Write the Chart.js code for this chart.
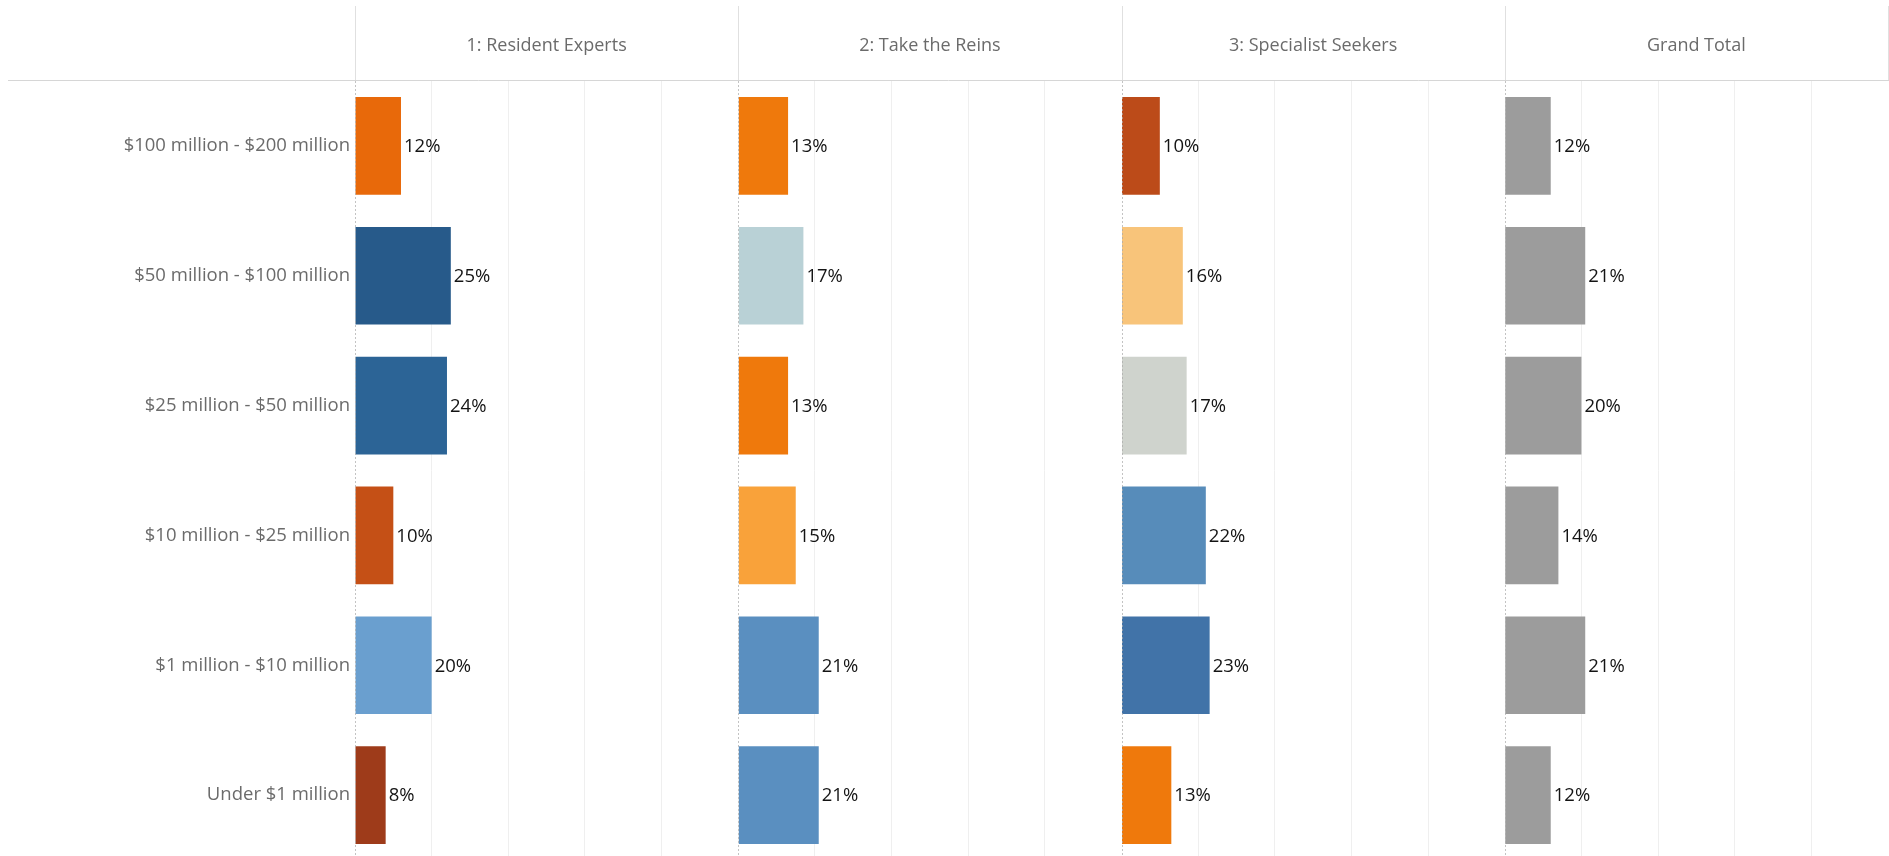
<!DOCTYPE html>
<html>
<head>
<meta charset="utf-8">
<script src="https://cdn.jsdelivr.net/npm/chart.js@4.4.1/dist/chart.umd.min.js"></script>
<style>
  html, body { margin: 0; padding: 0; background: #ffffff; overflow: hidden; }
  #wrap { position: relative; width: 1889px; height: 860px; }
</style>
</head>
<body>
<div id="wrap"><canvas id="chart"></canvas></div>

<script>
// revenue bands (rows) and customer segments (columns)
const categories = [
    '$100 million - $200 million',
    '$50 million - $100 million',
    '$25 million - $50 million',
    '$10 million - $25 million',
    '$1 million - $10 million',
    'Under $1 million'
];
const segments = ['1: Resident Experts', '2: Take the Reins', '3: Specialist Seekers', 'Grand Total'];

// share of each segment, in percent
const residentExperts   = [12, 25, 24, 10, 20, 8];
const takeTheReins      = [13, 17, 13, 15, 21, 21];
const specialistSeekers = [10, 16, 17, 22, 23, 13];
const grandTotal        = [12, 21, 20, 14, 21, 12];

const xTicks = [0, 20, 40, 60, 80, 100];

const residentColors   = ['#e8690a', '#275a8a', '#2c6496', '#c55016', '#6a9fcf', '#9e3b1a'];
const reinsColors      = ['#ef790c', '#b9d1d6', '#ef790c', '#f9a23a', '#5a8fc0', '#5a8fc0'];
const specialistColors = ['#bc4b19', '#f8c47a', '#cfd3cd', '#578cba', '#4173a8', '#ef790c'];
const totalColors      = ['#9c9c9c', '#9c9c9c', '#9c9c9c', '#9c9c9c', '#9c9c9c', '#9c9c9c'];

const seriesValues = [residentExperts, takeTheReins, specialistSeekers, grandTotal];
const seriesColors = [residentColors, reinsColors, specialistColors, totalColors];

const FONT = '"Open Sans", "Noto Sans", sans-serif';

// one x axis per column, all stacked side by side along the top
function panelScale(i) {
    return {
        type: 'linear',
        position: 'top',
        stack: 'panels',
        stackWeight: 1,
        min: 0,
        max: 100,
        afterBuildTicks: function (scale) {
            scale.ticks = xTicks.map(v => ({ value: v }));
        },
        afterFit: function (scale) { scale.height = 75; },
        grid: {
            drawTicks: false,
            color: function (ctx) {
                if (!ctx.tick || ctx.tick.value === 0 || ctx.tick.value === 100) return 'rgba(0,0,0,0)';
                return '#efefef';
            }
        },
        border: { display: false },
        ticks: { display: false },
        title: {
            display: true,
            text: segments[i],
            color: '#6b6b6b',
            font: { family: FONT, size: 18 },
            padding: { top: 29, bottom: 0 }
        }
    };
}

// header rule, column separators and dotted zero lines
const panelLines = {
    id: 'panelLines',
    afterDatasetsDraw(chart) {
        const ctx = chart.ctx;
        const area = chart.chartArea;
        ctx.save();
        ctx.lineWidth = 1;
        ctx.strokeStyle = '#d6d6d6';
        ctx.beginPath();
        ctx.moveTo(8, area.top - 0.5);
        ctx.lineTo(chart.width, area.top - 0.5);
        ctx.stroke();

        const edges = segments.map((s, i) => chart.scales['x' + i].left);
        edges.push(chart.scales['x3'].right);
        ctx.strokeStyle = '#e0e0e0';
        edges.forEach(x => {
            const px = Math.round(x) + 0.5;
            ctx.beginPath();
            ctx.moveTo(px, 6);
            ctx.lineTo(px, area.top - 1);
            ctx.stroke();
        });

        ctx.strokeStyle = 'rgba(170,170,170,0.7)';
        ctx.setLineDash([2, 2]);
        edges.slice(0, 4).forEach(x => {
            const px = Math.round(x) + 0.5;
            ctx.beginPath();
            ctx.moveTo(px, area.top);
            ctx.lineTo(px, area.bottom);
            ctx.stroke();
        });
        ctx.restore();
    }
};

// percentage text at the end of each bar
const valueLabels = {
    id: 'valueLabels',
    afterDatasetsDraw(chart) {
        const ctx = chart.ctx;
        ctx.save();
        ctx.font = '18.5px ' + FONT;
        ctx.fillStyle = '#141414';
        ctx.textAlign = 'left';
        ctx.textBaseline = 'middle';
        chart.data.datasets.forEach((ds, i) => {
            chart.getDatasetMeta(i).data.forEach((bar, j) => {
                ctx.fillText(ds.data[j] + '%', bar.x + 3, bar.y + 1);
            });
        });
        ctx.restore();
    }
};

const scales = {
    y: {
        type: 'category',
        position: 'left',
        grid: { display: false, drawTicks: false },
        border: { display: false },
        ticks: { color: '#6b6b6b', font: { family: FONT, size: 18.5 }, padding: 5 },
        afterFit: function (scale) {
            scale.width = 355;
            // rows run right to the bottom edge, no room kept for label overhang
            scale.paddingTop = 0;
            scale.paddingBottom = 0;
        }
    }
};
// top boxes are laid out last-registered first, so add the columns in reverse
for (let i = segments.length - 1; i >= 0; i--) {
    scales['x' + i] = panelScale(i);
}

const data = {
    labels: categories,
    datasets: seriesValues.map((values, i) => ({
        label: segments[i],
        data: values,
        xAxisID: 'x' + i,
        yAxisID: 'y',
        backgroundColor: seriesColors[i],
        borderWidth: 0,
        grouped: false,
        barPercentage: 0.752,
        categoryPercentage: 1
    }))
};

const chart = new Chart(document.getElementById('chart'), {
    type: 'bar',
    data: data,
    options: {
        indexAxis: 'y',
        responsive: true,
        maintainAspectRatio: false,
        animation: false,
        layout: { padding: { top: 6, left: 0, right: 1, bottom: 0 } },
        plugins: {
            legend: { display: false },
            tooltip: { enabled: false }
        },
        scales: scales
    },
    plugins: [panelLines, valueLabels]
});
</script>
</body>
</html>
